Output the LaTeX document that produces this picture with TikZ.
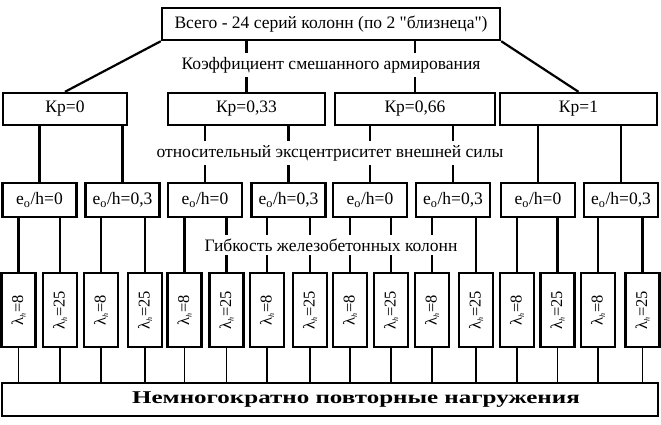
\documentclass[tikz,border=0pt]{standalone}
\usepackage{fontspec}
\usepackage{graphicx}
\newfontfamily\colfont{Liberation Serif}
\newcommand{\lamh}{λ\textsubscript{\fontsize{8}{9}\selectfont\textit{h}}}

\begin{document}
\begin{tikzpicture}[x=1pt, y=-1pt, line width=2.2pt,
  box node/.style={rectangle,draw,line width=2.4pt,inner sep=0pt,font=\colfont\fontsize{17.5}{20}\selectfont},
  kp node/.style={box node,minimum height=32pt},
  eo node/.style={box node,minimum width=74pt,minimum height=34pt},
  lam node/.style={box node,minimum width=34pt,minimum height=74pt,font=\colfont\fontsize{16.5}{18}\selectfont},
  gap node/.style={fill=white,inner xsep=2pt,inner ysep=4pt,font=\colfont\fontsize{17.5}{20}\selectfont},
  low line/.style={line width=1.2pt}]
  \useasboundingbox (0,0) rectangle (661,424);

  \node[kp node, minimum width=338pt] (top) at (331,24) {Всего - 24 серий колонн (по 2 "близнеца")};

  \node[kp node, minimum width=124pt] (kp1) at (65,109) {Кр=0};
  \node[kp node, minimum width=157pt] (kp2) at (246.5,109) {Кр=0,33};
  \node[kp node, minimum width=160pt] (kp3) at (415,109) {Кр=0,66};
  \node[kp node, minimum width=157pt] (kp4) at (578.5,109) {Кр=1};

  \node[eo node] (eo1) at (39.5,200) {e\textsubscript{o}/h=0};
  \node[eo node] (eo2) at (122.5,200) {e\textsubscript{o}/h=0,3};
  \node[eo node] (eo3) at (205,200) {e\textsubscript{o}/h=0};
  \node[eo node] (eo4) at (288.5,200) {e\textsubscript{o}/h=0,3};
  \node[eo node] (eo5) at (370,200) {e\textsubscript{o}/h=0};
  \node[eo node] (eo6) at (453,200) {e\textsubscript{o}/h=0,3};
  \node[eo node] (eo7) at (538,200) {e\textsubscript{o}/h=0};
  \node[eo node] (eo8) at (621,200) {e\textsubscript{o}/h=0,3};

  \node[lam node] (l1) at (18.5,310) {\rotatebox{90}{\lamh=8}};
  \node[lam node] (l2) at (60,310) {\rotatebox{90}{\lamh=25}};
  \node[lam node] (l3) at (101,310) {\rotatebox{90}{\lamh=8}};
  \node[lam node] (l4) at (145,310) {\rotatebox{90}{\lamh=25}};
  \node[lam node] (l5) at (184.5,310) {\rotatebox{90}{\lamh=8}};
  \node[lam node] (l6) at (226.5,310) {\rotatebox{90}{\lamh=25}};
  \node[lam node] (l7) at (267,310) {\rotatebox{90}{\lamh=8}};
  \node[lam node] (l8) at (310,310) {\rotatebox{90}{\lamh=25}};
  \node[lam node] (l9) at (350,310) {\rotatebox{90}{\lamh=8}};
  \node[lam node] (l10) at (391,310) {\rotatebox{90}{\lamh=25}};
  \node[lam node] (l11) at (432,310) {\rotatebox{90}{\lamh=8}};
  \node[lam node] (l12) at (476,310) {\rotatebox{90}{\lamh=25}};
  \node[lam node] (l13) at (517,310) {\rotatebox{90}{\lamh=8}};
  \node[lam node] (l14) at (557.5,310) {\rotatebox{90}{\lamh=25}};
  \node[lam node] (l15) at (598,310) {\rotatebox{90}{\lamh=8}};
  \node[lam node] (l16) at (642.5,310) {\rotatebox{90}{\lamh=25}};

  \node[box node, minimum width=656pt, minimum height=33pt] (load) at (330,399.5) {};
  \node[font=\colfont\fontsize{18}{20}\selectfont\bfseries] (loadtext) at (356,400)
    {\scalebox{1.39}[1]{Немногократно повторные нагружения}};

  % top level
  \draw (top.south west) -- (kp1.north);
  \draw (top.south east) -- (kp4.north);
  \draw (kp2.north) -- (kp2.north |- top.south);
  \draw (kp3.north) -- (kp3.north |- top.south);

  % Kp -> e0/h
  \draw (eo1.north) -- (eo1.north |- kp1.south);
  \draw (eo2.north) -- (eo2.north |- kp1.south);
  \draw (eo3.north) -- (eo3.north |- kp2.south);
  \draw (eo4.north) -- (eo4.north |- kp2.south);
  \draw (eo5.north) -- (eo5.north |- kp3.south);
  \draw (eo6.north) -- (eo6.north |- kp3.south);
  \draw (eo7.north) -- (eo7.north |- kp4.south);
  \draw (eo8.north) -- (eo8.north |- kp4.south);

  % e0/h -> lambda
  \draw (l1.north) -- (l1.north |- eo1.south);
  \draw (l2.north) -- (l2.north |- eo1.south);
  \draw (l3.north) -- (l3.north |- eo2.south);
  \draw (l4.north) -- (l4.north |- eo2.south);
  \draw (l5.north) -- (l5.north |- eo3.south);
  \draw (l6.north) -- (l6.north |- eo3.south);
  \draw (l7.north) -- (l7.north |- eo4.south);
  \draw (l8.north) -- (l8.north |- eo4.south);
  \draw (l9.north) -- (l9.north |- eo5.south);
  \draw (l10.north) -- (l10.north |- eo5.south);
  \draw (l11.north) -- (l11.north |- eo6.south);
  \draw (l12.north) -- (l12.north |- eo6.south);
  \draw (l13.north) -- (l13.north |- eo7.south);
  \draw (l14.north) -- (l14.north |- eo7.south);
  \draw (l15.north) -- (l15.north |- eo8.south);
  \draw (l16.north) -- (l16.north |- eo8.south);

  % lambda -> loading
  \draw[low line] (l1.south) -- (l1.south |- load.north);
  \draw[low line] (l2.south) -- (l2.south |- load.north);
  \draw[low line] (l3.south) -- (l3.south |- load.north);
  \draw[low line] (l4.south) -- (l4.south |- load.north);
  \draw[low line] (l5.south) -- (l5.south |- load.north);
  \draw[low line] (l6.south) -- (l6.south |- load.north);
  \draw[low line] (l7.south) -- (l7.south |- load.north);
  \draw[low line] (l8.south) -- (l8.south |- load.north);
  \draw[low line] (l9.south) -- (l9.south |- load.north);
  \draw[low line] (l10.south) -- (l10.south |- load.north);
  \draw[low line] (l11.south) -- (l11.south |- load.north);
  \draw[low line] (l12.south) -- (l12.south |- load.north);
  \draw[low line] (l13.south) -- (l13.south |- load.north);
  \draw[low line] (l14.south) -- (l14.south |- load.north);
  \draw[low line] (l15.south) -- (l15.south |- load.north);
  \draw[low line] (l16.south) -- (l16.south |- load.north);

  % level captions over the lines
  \node[gap node] (cap1) at (331,65) {Коэффициент смешанного армирования};
  \node[gap node] (cap2) at (330,153) {относительный эксцентриситет внешней силы};
  \node[gap node] (cap3) at (331,245) {Гибкость железобетонных колонн};
\end{tikzpicture}
\end{document}
